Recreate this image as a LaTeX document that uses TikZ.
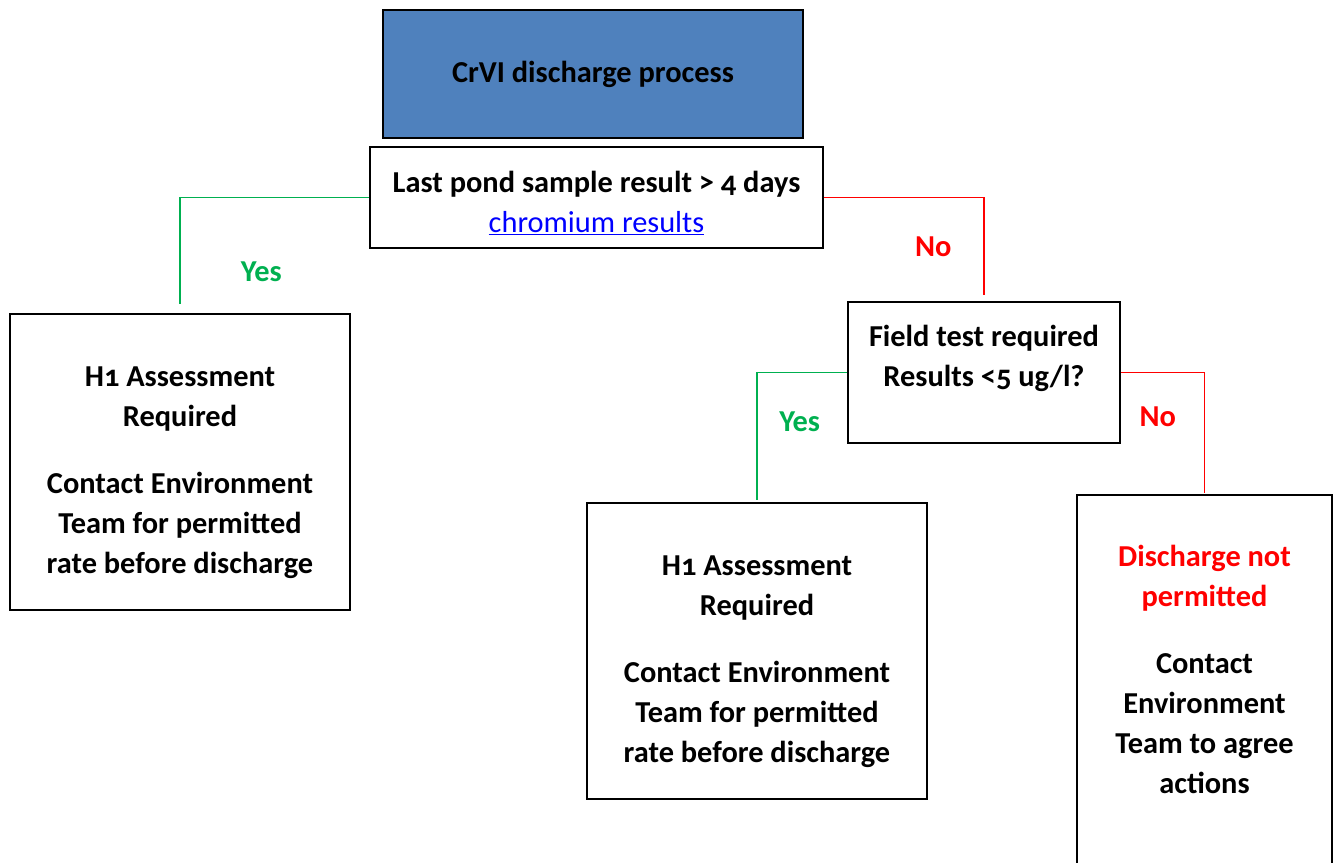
\documentclass[tikz,border=0pt]{standalone}
\usepackage{fontspec}
\setmainfont{Carlito}[Numbers=OldStyle]
\usepackage{tikz}
\usetikzlibrary{arrows.meta, positioning, calc}
\definecolor{titleblue}{HTML}{4F81BD}
\definecolor{yesgreen}{HTML}{00B050}
\definecolor{nored}{HTML}{FF0000}
\definecolor{linkblue}{HTML}{0000FF}
\newcommand{\topstrut}[1]{\rule{0pt}{#1}}

\begin{document}
\begin{tikzpicture}[
        x=0.75pt, y=-0.75pt,
        flowbox/.style={draw, line width=1.4pt, align=center, inner sep=0pt, font=\bfseries\fontsize{22.8}{30}\selectfont},
        titlebox/.style={flowbox, fill=titleblue},
        yesline/.style={draw=yesgreen, line width=1.3pt},
        noline/.style={draw=nored, line width=1.3pt},
        yeslabel/.style={text=yesgreen, font=\bfseries\fontsize{22.8}{30}\selectfont},
        nolabel/.style={text=nored, font=\bfseries\fontsize{22.8}{30}\selectfont}
    ]
        \useasboundingbox (0,0) rectangle (1338,863);

        \node[titlebox, minimum width=315pt, minimum height=96pt] (title) at (593,74) {CrVI discharge process};

        \node[flowbox, minimum width=339.75pt, minimum height=75.75pt, text depth=-7pt] (pond) at (596.5,197.5)
            {\topstrut{22pt}Last pond sample result > 4 days\\\textcolor{linkblue}{\mdseries\underline{chromium results}}};

        \node[flowbox, minimum width=255pt, minimum height=222pt, text depth=-6pt] (assessleft) at (180,462)
            {\topstrut{26.5pt}H1 Assessment\\Required\\[20pt]Contact Environment\\Team for permitted\\rate before discharge};

        % tekst bovenaan in het vak houden
        \node[flowbox, minimum width=204pt, minimum height=105.75pt, text depth=24.5pt] (field) at (984,372.5)
            {Field test required\\Results <5 ug/l?};

        \node[flowbox, minimum width=255pt, minimum height=222pt, text depth=-6pt] (assessmid) at (757,651)
            {\topstrut{26.5pt}H1 Assessment\\Required\\[20pt]Contact Environment\\Team for permitted\\rate before discharge};

        % vak loopt onder de rand door
        \node[flowbox, minimum width=191.25pt, minimum height=303.75pt, text depth=42.5pt] (notpermitted) at (1204.5,697.5)
            {\textcolor{nored}{Discharge not}\\\textcolor{nored}{permitted}\\[20pt]Contact\\Environment\\Team to agree\\actions};

        \draw[yesline, shorten >=7pt] (pond.west) -| node[yeslabel, pos=0.82, xshift=61pt] {Yes} (assessleft.north);
        \draw[noline, shorten >=4.5pt] (pond.east) -| node[nolabel, pos=0.74, xshift=-38pt] {No} (field.north);
        \draw[yesline, shorten >=1.5pt] (field.west) -| node[yeslabel, pos=0.69, xshift=32pt] {Yes} (assessmid.north);
        \draw[noline, shorten >=1pt] (field.east) -| node[nolabel, pos=0.68, xshift=-35pt] {No} (notpermitted.north);
    \end{tikzpicture}
\end{document}
